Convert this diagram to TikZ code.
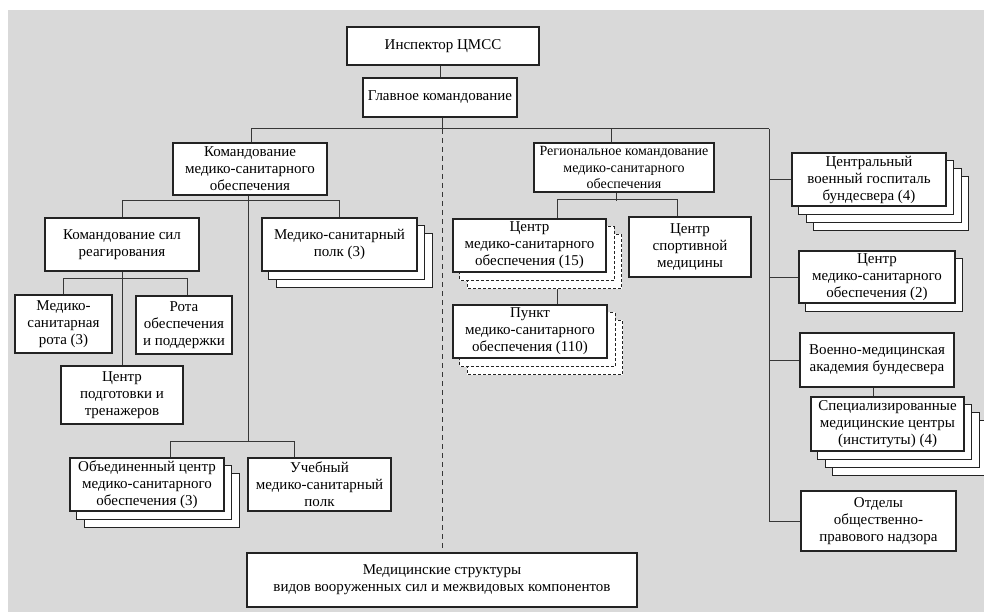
\documentclass[tikz,border=0pt]{standalone}
\usepackage{fontspec}
\setmainfont{Liberation Serif}
\usetikzlibrary{backgrounds}
\definecolor{bggray}{RGB}{217,217,217}
\definecolor{linec}{RGB}{55,55,55}
\definecolor{boxc}{RGB}{35,35,35}
\begin{document}
\begin{tikzpicture}[x=1pt,y=-1pt,
  box/.style={draw=boxc, line width=1.1pt, fill=white, align=center, inner sep=0pt,
    font=\fontsize{15}{17}\selectfont},
  conn/.style={draw=linec, line width=1pt},
  sh/.style={draw=boxc, line width=1.1pt, fill=white},
  dsh/.style={draw=boxc, line width=1pt, fill=white, dash pattern=on 3pt off 2pt},
  dline/.style={draw=linec, line width=1pt, dash pattern=on 5pt off 4pt}]
\useasboundingbox (0,0) rectangle (984,612);

% top
\node[box, minimum width=192, minimum height=38] (insp) at (443,46) {Инспектор ЦМСС};
\node[box, minimum width=154, minimum height=39] (glav) at (440,97.5) {Главное командование};
% left branch
\node[box, minimum width=154, minimum height=52] (kmso) at (250,169) {Командование\\медико-санитарного\\обеспечения};
\node[box, minimum width=154, minimum height=53] (ksr) at (122,244.5) {Командование сил\\реагирования};
\node[box, minimum width=155, minimum height=53] (medpolk) at (339.5,244.5) {Медико-санитарный\\полк (3)};
\node[box, minimum width=97, minimum height=58] (medrota) at (63.5,324) {Медико-\\санитарная\\рота (3)};
\node[box, minimum width=96, minimum height=58] (rota) at (184,325) {Рота\\обеспечения\\и поддержки};
\node[box, minimum width=122, minimum height=58] (ctrain) at (122,395) {Центр\\подготовки и\\тренажеров};
\node[box, minimum width=154, minimum height=53] (obed) at (147,484.5) {Объединенный центр\\медико-санитарного\\обеспечения (3)};
\node[box, minimum width=143, minimum height=53] (ucheb) at (319.5,484.5) {Учебный\\медико-санитарный\\полк};
% middle branch
\node[box, minimum width=180, minimum height=49, font=\fontsize{14}{16.5}\selectfont] (reg) at (624,167.5) {Региональное командование\\медико-санитарного\\обеспечения};
\node[box, minimum width=153, minimum height=53] (cmso15) at (529.5,245.5) {Центр\\медико-санитарного\\обеспечения (15)};
\node[box, minimum width=122, minimum height=60] (sport) at (690,247) {Центр\\спортивной\\медицины};
\node[box, minimum width=154, minimum height=53] (punkt) at (530,331.5) {Пункт\\медико-санитарного\\обеспечения (110)};
% right column
\node[box, minimum width=154, minimum height=53] (hosp) at (869,179.5) {Центральный\\военный госпиталь\\бундесвера (4)};
\node[box, minimum width=156, minimum height=52] (cmso2) at (877,277) {Центр\\медико-санитарного\\обеспечения (2)};
\node[box, minimum width=154, minimum height=54] (acad) at (877,360) {Военно-медицинская\\академия бундесвера};
\node[box, minimum width=153, minimum height=54] (spec) at (887.5,424) {Специализированные\\медицинские центры\\(институты) (4)};
\node[box, minimum width=155, minimum height=60] (otd) at (878.5,521) {Отделы\\общественно-\\правового надзора};
% bottom
\node[box, minimum width=390, minimum height=54] (bottom) at (442,580) {Медицинские структуры\\видов вооруженных сил и межвидовых компонентов};

\begin{pgfonlayer}{background}
\fill[bggray] (8,10) rectangle (984,612);
\coordinate (busL) at (251,129);
\coordinate (busR) at (769,129);
% top connectors
\draw[conn] (glav.north |- insp.south) -- (glav.north);
\draw[conn] (busL) -- (busR);
\draw[conn] (bottom.north |- glav.south) -- (bottom.north |- busL);
\draw[dline] (bottom.north |- busL) -- (bottom.north);
\draw[conn] (busL) -- (busL |- kmso.north);
\draw[conn] ([xshift=-13pt]reg.north |- busL) -- ([xshift=-13pt]reg.north);
% right column
\draw[conn] (busR) -- (busR |- otd.west) -- (otd.west);
\draw[conn] (busR |- hosp.west) -- (hosp.west);
\draw[conn] (busR |- cmso2.west) -- (cmso2.west);
\draw[conn] (busR |- acad.west) -- (acad.west);
\draw[conn] ([xshift=-4pt]acad.south) -- ([xshift=-4pt]acad.south |- spec.north);
% left branch
\draw[conn] ([xshift=-2pt]kmso.south) -- ([xshift=-2pt]kmso.south |- 0,442);
\draw[conn] (ksr.north) -- ++(0,-17) -| (medpolk.north);
\draw[conn] ([xshift=23pt]obed.north) -- ++(0,-16) -| ([xshift=-25.5pt]ucheb.north);
\draw[conn] (ksr.south) -- (ctrain.north);
\draw[conn] (medrota.north) -- ++(0,-16) -| ([xshift=3pt]rota.north);
% middle branch
\draw[conn] ([xshift=-8pt]reg.south) -- ++(0,8);
\draw[conn] ([xshift=27.5pt]cmso15.north) -- ++(0,-19) -| ([xshift=-13pt]sport.north);
\draw[conn] ([xshift=27.5pt]cmso15.south) -- ([xshift=27pt]punkt.north);
% shadows (stacked copies)
\foreach \n/\k in {medpolk/2, obed/2, hosp/3, cmso2/1, spec/3} {
  \foreach \i in {\k,...,1} {
    \draw[sh] ([shift={(\i*7.3,\i*8)}]\n.north west) rectangle ([shift={(\i*7.3,\i*8)}]\n.south east);
  }
}
\foreach \n in {cmso15, punkt} {
  \foreach \i in {2,1} {
    \draw[dsh] ([shift={(\i*7.5,\i*8)}]\n.north west) rectangle ([shift={(\i*7.5,\i*8)}]\n.south east);
  }
}
\end{pgfonlayer}
\end{tikzpicture}
\end{document}
